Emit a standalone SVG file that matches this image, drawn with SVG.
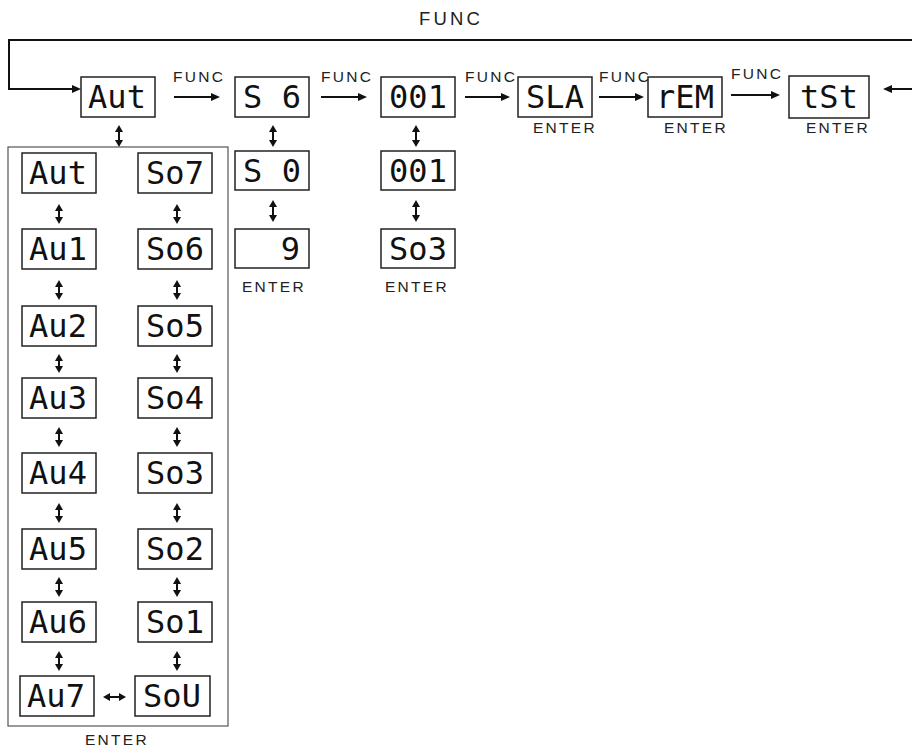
<svg xmlns="http://www.w3.org/2000/svg" width="912" height="749" viewBox="0 0 912 749">
<style>
.bg{fill:#fff}
.box{fill:#fff;stroke:#222;stroke-width:1.5}
.frame{fill:none;stroke:#555;stroke-width:1.2}
.disp{font-family:"DejaVu Sans Mono","Liberation Mono",monospace;font-size:32px;fill:#111;text-anchor:middle}
.lbl{font-family:"Liberation Sans",Arial,sans-serif;font-size:15.5px;letter-spacing:2.3px;fill:#222}
.lblc{font-family:"Liberation Sans",Arial,sans-serif;font-size:15.5px;letter-spacing:2.3px;fill:#222;text-anchor:middle}
.big{font-family:"Liberation Sans",Arial,sans-serif;font-size:18.5px;letter-spacing:3.2px;fill:#222}
.arr{fill:none;stroke:#111;stroke-width:2;marker-end:url(#ah)}
.dbl{fill:none;stroke:#111;stroke-width:2;marker-start:url(#dh);marker-end:url(#dh)}
</style>
<defs>
<marker id="ah" markerUnits="userSpaceOnUse" markerWidth="9" markerHeight="9" refX="0" refY="4" orient="auto" overflow="visible">
<path d="M0,0 L9,4 L0,8 z" fill="#111"/>
</marker>
<marker id="dh" markerUnits="userSpaceOnUse" markerWidth="7" markerHeight="8" refX="0" refY="4" orient="auto-start-reverse" overflow="visible">
<path d="M0,0 L7,4 L0,8 z" fill="#111"/>
</marker>
</defs>
<rect class="bg" x="0" y="0" width="912" height="749"/>

<g id="connectors">
<polyline class="arr" points="912,40 9,40 9,89 72,89"/>
<text class="big" x="419" y="25">FUNC</text>
<line class="arr" x1="174" y1="97" x2="211" y2="97"/>
<text class="lbl" x="173" y="82">FUNC</text>
<line class="arr" x1="321" y1="97" x2="358" y2="97"/>
<text class="lbl" x="321" y="82">FUNC</text>
<line class="arr" x1="465" y1="97" x2="501" y2="97"/>
<text class="lbl" x="465" y="82">FUNC</text>
<line class="arr" x1="599" y1="97" x2="635" y2="97"/>
<text class="lbl" x="599" y="82">FUNC</text>
<line class="arr" x1="731" y1="95" x2="771" y2="95"/>
<text class="lbl" x="731" y="79">FUNC</text>
<line class="arr" x1="912" y1="89" x2="892" y2="89"/>

<line class="dbl" x1="119" y1="132" x2="119" y2="140"/>
<line class="dbl" x1="273" y1="132" x2="273" y2="140"/>
<line class="dbl" x1="273" y1="207" x2="273" y2="215"/>
<line class="dbl" x1="416" y1="132" x2="416" y2="140"/>
<line class="dbl" x1="416" y1="207" x2="416" y2="215"/>

<line class="dbl" x1="59" y1="211" x2="59" y2="217"/>
<line class="dbl" x1="59" y1="287" x2="59" y2="293"/>
<line class="dbl" x1="59" y1="361" x2="59" y2="366"/>
<line class="dbl" x1="59" y1="434" x2="59" y2="440"/>
<line class="dbl" x1="59" y1="510" x2="59" y2="516"/>
<line class="dbl" x1="59" y1="584" x2="59" y2="590"/>
<line class="dbl" x1="59" y1="658" x2="59" y2="664"/>
<line class="dbl" x1="177" y1="211" x2="177" y2="217"/>
<line class="dbl" x1="177" y1="287" x2="177" y2="293"/>
<line class="dbl" x1="177" y1="361" x2="177" y2="366"/>
<line class="dbl" x1="177" y1="434" x2="177" y2="440"/>
<line class="dbl" x1="177" y1="510" x2="177" y2="516"/>
<line class="dbl" x1="177" y1="584" x2="177" y2="590"/>
<line class="dbl" x1="177" y1="658" x2="177" y2="664"/>
<line class="dbl" x1="110" y1="697" x2="119" y2="697"/>
</g>

<g id="n_aut"><rect class="box" x="81" y="77" width="74" height="40"/><text class="disp" x="117" y="108">Aut</text></g>
<g id="n_s6"><rect class="box" x="235" y="77" width="74" height="40"/><text class="disp" x="272" y="108">S 6</text></g>
<g id="n_001"><rect class="box" x="381" y="77" width="74" height="40"/><text class="disp" x="418" y="108">001</text></g>
<g id="n_sla"><rect class="box" x="518" y="77" width="74" height="40"/><text class="disp" x="555" y="108">SLA</text><text class="lblc" x="565" y="133">ENTER</text></g>
<g id="n_rem"><rect class="box" x="648" y="77" width="74" height="40"/><text class="disp" x="685" y="108">rEM</text><text class="lblc" x="696" y="133">ENTER</text></g>
<g id="n_tst"><rect class="box" x="789" y="76" width="80" height="42"/><text class="disp" x="829" y="108">tSt</text><text class="lblc" x="838" y="133">ENTER</text></g>

<g id="n_s0"><rect class="box" x="235" y="151" width="74" height="39"/><text class="disp" x="272" y="182">S 0</text></g>
<g id="n_9"><rect class="box" x="235" y="229" width="74" height="39"/><text class="disp" x="300" y="260" style="text-anchor:end">9</text><text class="lblc" x="274" y="292">ENTER</text></g>
<g id="n_001b"><rect class="box" x="381" y="151" width="74" height="39"/><text class="disp" x="418" y="182">001</text></g>
<g id="n_so3b"><rect class="box" x="381" y="229" width="74" height="39"/><text class="disp" x="418" y="260">So3</text><text class="lblc" x="417" y="292">ENTER</text></g>

<g id="auto_group">
<rect class="frame" x="8" y="147" width="220" height="579"/>
<text class="lblc" x="117" y="745">ENTER</text>
</g>
<g id="n_aut2"><rect class="box" x="22" y="153" width="74" height="40"/><text class="disp" x="58" y="184">Aut</text></g>
<g id="n_au1"><rect class="box" x="22" y="229" width="74" height="40"/><text class="disp" x="58" y="260">Au1</text></g>
<g id="n_au2"><rect class="box" x="22" y="306" width="74" height="40"/><text class="disp" x="58" y="337">Au2</text></g>
<g id="n_au3"><rect class="box" x="22" y="378" width="74" height="40"/><text class="disp" x="58" y="409">Au3</text></g>
<g id="n_au4"><rect class="box" x="22" y="453" width="74" height="40"/><text class="disp" x="58" y="484">Au4</text></g>
<g id="n_au5"><rect class="box" x="22" y="529" width="74" height="40"/><text class="disp" x="58" y="560">Au5</text></g>
<g id="n_au6"><rect class="box" x="22" y="602" width="74" height="40"/><text class="disp" x="58" y="633">Au6</text></g>
<g id="n_au7"><rect class="box" x="20" y="676" width="74" height="40"/><text class="disp" x="56" y="707">Au7</text></g>
<g id="n_so7"><rect class="box" x="138" y="153" width="74" height="40"/><text class="disp" x="175" y="184">So7</text></g>
<g id="n_so6"><rect class="box" x="138" y="229" width="74" height="40"/><text class="disp" x="175" y="260">So6</text></g>
<g id="n_so5"><rect class="box" x="138" y="306" width="74" height="40"/><text class="disp" x="175" y="337">So5</text></g>
<g id="n_so4"><rect class="box" x="138" y="378" width="74" height="40"/><text class="disp" x="175" y="409">So4</text></g>
<g id="n_so3"><rect class="box" x="138" y="453" width="74" height="40"/><text class="disp" x="175" y="484">So3</text></g>
<g id="n_so2"><rect class="box" x="138" y="529" width="74" height="40"/><text class="disp" x="175" y="560">So2</text></g>
<g id="n_so1"><rect class="box" x="138" y="602" width="74" height="40"/><text class="disp" x="175" y="633">So1</text></g>
<g id="n_sou"><rect class="box" x="135" y="676" width="75" height="40"/><text class="disp" x="172" y="707">SoU</text></g>
</svg>
